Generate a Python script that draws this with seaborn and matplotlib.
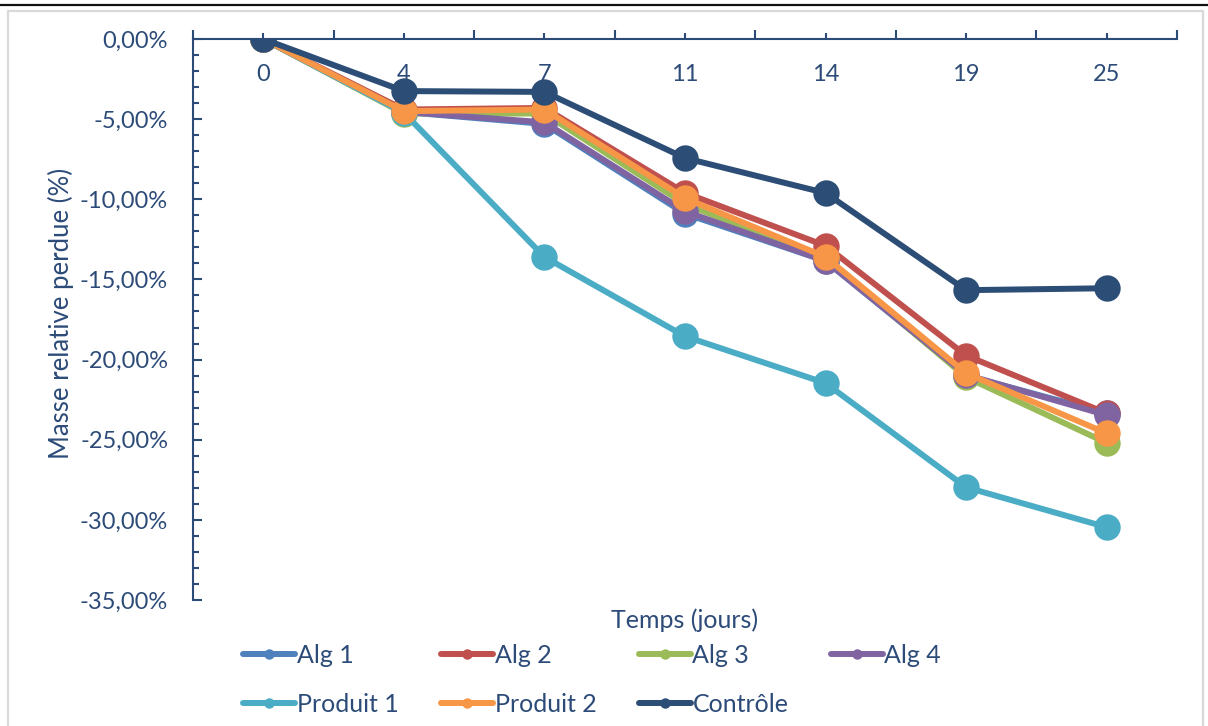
import numpy as np
import pandas as pd
import matplotlib
matplotlib.use("Agg")
import matplotlib.pyplot as plt
from matplotlib.lines import Line2D
from matplotlib.ticker import FuncFormatter, MultipleLocator, FixedLocator
import seaborn as sns

# Mass loss over time (percent of initial mass)
jours = [0, 4, 7, 11, 14, 19, 25]
alg_1 = [0.0, -4.55, -5.30, -10.90, -13.85, -21.00, -23.35]
alg_2 = [0.0, -4.40, -4.30, -9.60, -12.90, -19.75, -23.35]
alg_3 = [0.0, -4.65, -4.65, -10.30, -13.70, -21.10, -25.20]
alg_4 = [0.0, -4.55, -5.20, -10.75, -13.85, -20.95, -23.47]
produit_1 = [0.0, -4.60, -13.60, -18.55, -21.47, -27.97, -30.46]
produit_2 = [0.0, -4.50, -4.40, -9.93, -13.60, -20.85, -24.60]
controle = [0.0, -3.25, -3.30, -7.43, -9.61, -15.67, -15.55]

series_names = ["Alg 1", "Alg 2", "Alg 3", "Alg 4", "Produit 1", "Produit 2", "Contrôle"]
series_values = [alg_1, alg_2, alg_3, alg_4, produit_1, produit_2, controle]
colors = ["#4F81BD", "#C0504D", "#9BBB59", "#8064A2", "#4BACC6", "#F79646", "#2C4D75"]

TXT = "#2D4B78"
FONT = "Lato"

rows = []
for name, vals in zip(series_names, series_values):
    for i, (j, v) in enumerate(zip(jours, vals)):
        rows.append({"pos": i, "jour": j, "serie": name, "perte": v})
df = pd.DataFrame(rows)

sns.set_theme(style="white")
plt.rcParams["font.family"] = [FONT, "DejaVu Sans"]

W, H = 1208, 726
fig = plt.figure(figsize=(W / 100, H / 100), dpi=100)
fig.patch.set_facecolor("white")

# outer frame and page rule
fig.add_artist(Line2D([0, 1], [1 - 5 / H, 1 - 5 / H], color="#111111", lw=1.6,
                      transform=fig.transFigure))
fig.add_artist(Line2D([8 / W, 8 / W, 1203 / W, 1203 / W],
                      [0, 1 - 11 / H, 1 - 11 / H, 0], color="#D9D9D9", lw=1.6,
                      transform=fig.transFigure))

ax = fig.add_axes([193 / W, 1 - 600 / H, (1177 - 193) / W, (600 - 39) / H])

sns.lineplot(data=df, x="pos", y="perte", hue="serie", hue_order=series_names,
             palette=colors, marker="o", markersize=19, markeredgewidth=0,
             linewidth=4.3, sort=False, legend=False, ax=ax)

ax.set_xlim(-0.5, len(jours) - 0.5)
ax.set_ylim(-35, 0)

for s in ["top", "right"]:
    ax.spines[s].set_visible(False)
ax.spines["bottom"].set_position(("data", 0))
for s in ["left", "bottom"]:
    ax.spines[s].set_color(TXT)
    ax.spines[s].set_linewidth(1.5)

ax.xaxis.set_major_locator(FixedLocator(range(len(jours))))
ax.xaxis.set_minor_locator(FixedLocator(np.arange(-0.5, len(jours), 1.0)))
ax.set_xticklabels([str(j) for j in jours])
ax.tick_params(axis="x", which="both", bottom=True, top=False)
ax.tick_params(axis="x", which="major", direction="in", length=4.5, width=1.5,
               color=TXT, labelcolor=TXT, labelsize=17, pad=18)
ax.tick_params(axis="x", which="minor", direction="in", length=6.5, width=1.5,
               color=TXT)

ax.yaxis.set_major_locator(MultipleLocator(5))
ax.yaxis.set_minor_locator(MultipleLocator(1))
ax.yaxis.set_major_formatter(FuncFormatter(lambda v, p: f"{v:.2f}".replace(".", ",") + "%"))
ax.tick_params(axis="y", which="both", left=True, right=False)
ax.tick_params(axis="y", which="major", direction="in", length=6.5, width=1.5,
               color=TXT, labelcolor=TXT, labelsize=17, pad=18)
ax.tick_params(axis="y", which="minor", direction="in", length=4.5, width=1.5,
               color=TXT)

ax.set_xlabel("")
ax.set_ylabel("")
fig.text(685 / W, 1 - 620 / H, "Temps (jours)", color=TXT, fontsize=18,
         ha="center", va="center")
fig.text(61 / W, 1 - 313 / H, "Masse relative perdue (%)", color=TXT, fontsize=18.5,
         ha="center", va="center", rotation=90)

# legend laid out row by row (four columns)
handles = [Line2D([], [], color=c, lw=4.3, marker="o", markersize=7.5, markeredgewidth=0)
           for c in colors]
order = [0, 4, 1, 5, 2, 6, 3]
fig.legend([handles[i] for i in order], [series_names[i] for i in order],
           loc="upper left", bbox_to_anchor=(243 / W, 1 - 644 / H), ncol=4,
           frameon=False, borderpad=0, borderaxespad=0, handlelength=2.08,
           handletextpad=0.08, columnspacing=1.68, labelspacing=1.02,
           prop={"family": FONT, "size": 18}, labelcolor=TXT)

fig.savefig("out.png", dpi=100, facecolor="white")
